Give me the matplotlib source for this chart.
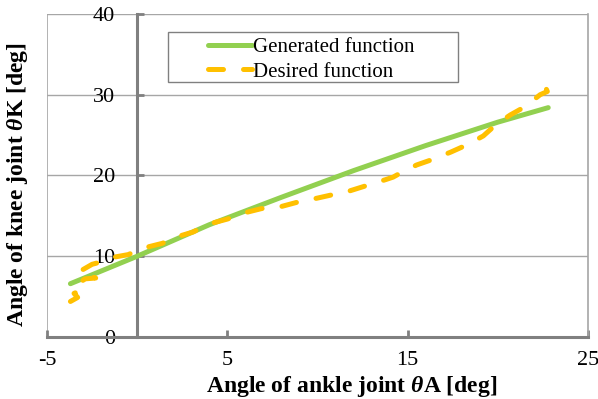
import matplotlib
matplotlib.use("Agg")
import matplotlib.pyplot as plt
from matplotlib.patches import Rectangle

plt.rcParams['font.family'] = ['Liberation Serif', 'DejaVu Serif']
plt.rcParams['axes.unicode_minus'] = False
plt.rcParams['mathtext.fontset'] = 'custom'
plt.rcParams['mathtext.it'] = 'Liberation Serif:italic:bold'
plt.rcParams['mathtext.rm'] = 'Liberation Serif:bold'

# generated function (green)
gen_x = [-3.7, 0, 4, 8, 12, 16, 20, 22.8]
gen_y = [6.6, 10.0, 13.9, 17.3, 20.6, 23.7, 26.6, 28.4]

# desired function (orange, dashed)
des_x = [-3.7, -3.3, -3.5, -3.1, -3.3, -2.9, -2.3, -3.2, -2.5, -2.0, -1.5, -0.5,
         0.33, 1.4, 2.2, 3.1, 4.0, 5.0, 6.0, 6.9, 7.9, 8.9, 10.0, 10.8, 11.8,
         12.8, 13.8, 14.2, 14.6, 15.5, 16.4, 17.4, 18.3, 19.2, 19.9, 20.7,
         21.5, 22.35, 22.75, 22.6]
des_y = [4.4, 4.9, 5.4, 5.8, 6.5, 7.2, 7.3, 8.1, 9.0, 9.3, 9.8, 10.2,
         11.0, 11.6, 12.4, 13.0, 14.0, 14.6, 15.4, 15.9, 16.1, 16.7, 17.2, 17.6, 18.1,
         18.8, 19.5, 19.8, 20.3, 21.3, 22.0, 22.9, 23.8, 24.9, 26.3, 27.5,
         28.5, 30.0, 30.4, 31.2]

xticks = [-5, 5, 15, 25]
yticks = [0, 10, 20, 30, 40]

fig = plt.figure(figsize=(5.98, 3.99), dpi=100)
ax = fig.add_axes([0.0786, 0.1554, 0.9045, 0.8096])

ax.plot(gen_x, gen_y, color='#92D050', lw=3.6, solid_capstyle='round',
        label='Generated function', zorder=3)
ax.plot(des_x, des_y, color='#FFC000', lw=3.6, dashes=(3, 4),
        dash_capstyle='round', label='Desired function', zorder=4)

ax.set_xlim(-5, 25)
ax.set_ylim(0, 40)
ax.set_xticks(xticks)
ax.set_yticks(yticks)

for yv in yticks[1:]:
    ax.axhline(yv, color='#A6A6A6', lw=1.0, zorder=1)
ax.axvline(-5, color='#A6A6A6', lw=1.2, zorder=1)

ax.spines['left'].set_position(('data', 0))
ax.spines['left'].set_color('#808080')
ax.spines['left'].set_linewidth(2.2)
ax.spines['bottom'].set_color('#808080')
ax.spines['bottom'].set_linewidth(2.2)
ax.spines['top'].set_visible(False)
ax.spines['right'].set_color('#A6A6A6')
ax.spines['right'].set_linewidth(1.2)

ax.tick_params(axis='both', direction='in', length=5, width=2, color='#808080',
               labelsize=16)
ax.tick_params(axis='y', pad=16)
ax.tick_params(axis='x', pad=10)

fig.text(352 / 598, 1 - 392 / 399, r'Angle of ankle joint $\theta$A [deg]',
         fontsize=17, fontweight='bold', ha='center', va='baseline')
fig.text(18 / 598, 1 - 185 / 399, r'Angle of knee joint $\theta$K [deg]',
         fontsize=17, fontweight='bold', ha='center', va='center', rotation=90)

# legend box
ax.add_patch(Rectangle((0.2237, 0.789), 0.536, 0.155, transform=ax.transAxes,
                       facecolor='white', edgecolor='#808080', lw=1.0, zorder=5))
leg = ax.legend(loc='upper left', bbox_to_anchor=(0.2976, 0.928), borderaxespad=0,
                fontsize=15, frameon=False, handlelength=2.1, handletextpad=0.05,
                borderpad=0, labelspacing=0.25)
leg.set_zorder(6)

fig.savefig('out.png', dpi=100)
